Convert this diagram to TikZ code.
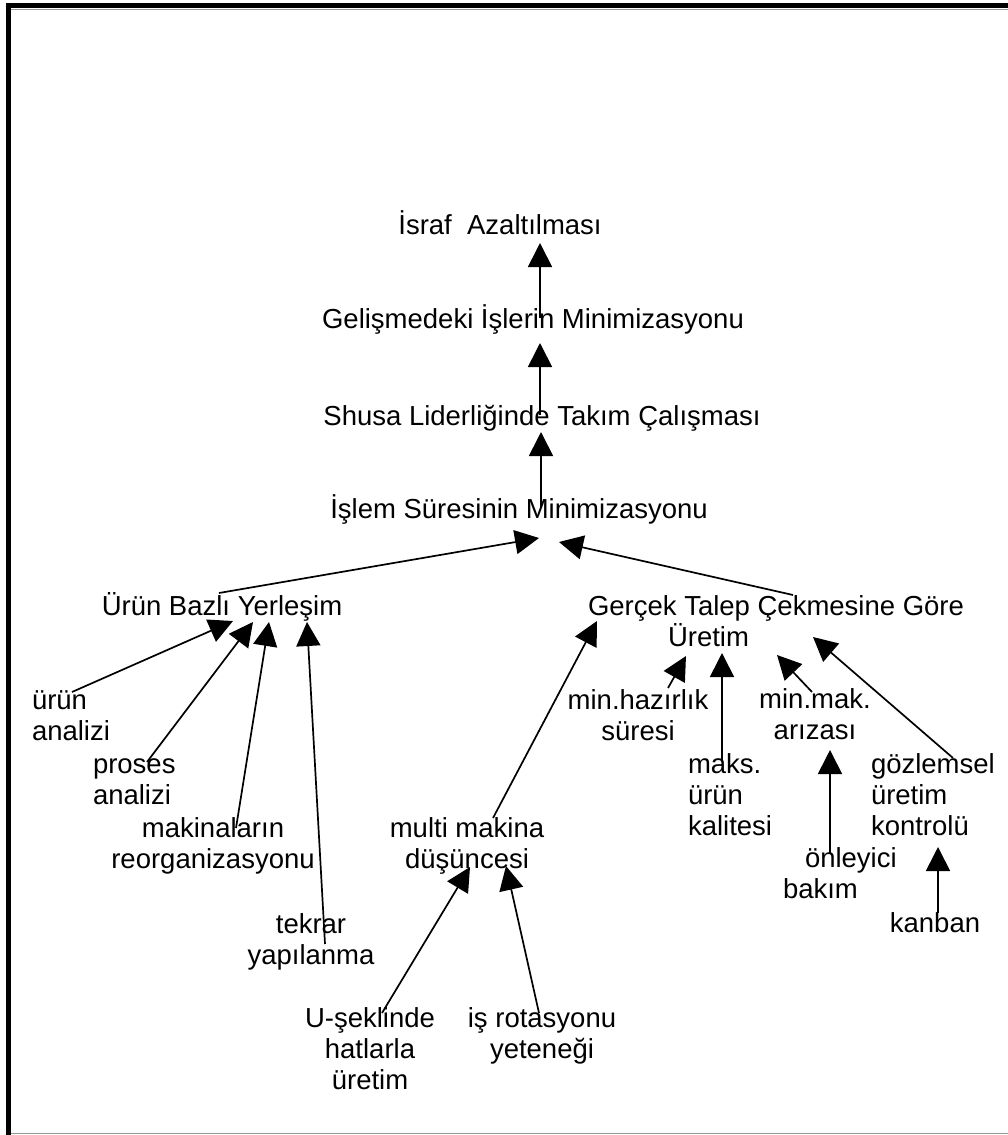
\documentclass[tikz,border=0pt]{standalone}
\usepackage{fontspec}
\setmainfont{Liberation Sans}
\usetikzlibrary{arrows.meta}

\tikzset{
  lbl/.style={inner sep=0pt, outer sep=0pt, font=\fontsize{27.5}{31}\selectfont},
  lblc/.style={lbl, anchor=base, align=center},
  lbll/.style={lbl, anchor=base west, align=left},
  arr/.style={line width=1.7pt, -{Triangle[length=24pt,width=24pt]}},
  frame/.style={line width=5pt, line join=miter},
}

\begin{document}
\begin{tikzpicture}[x=1pt, y=-1pt]
\useasboundingbox (0,0) rectangle (1008,1135);

% outer frame
\draw[frame] (8,1135) -- (8,5.5) -- (1008,5.5);
\draw[black!40, line width=0.8pt] (10.5,8.9) -- (1008,8.9);
\draw[black!40, line width=1pt] (10.5,1133.5) -- (1008,1133.5);

% main chain (nodes sit on the baseline of their last line)
\node[lblc] (isr) at (500,234) {İsraf~~Azaltılması};
\node[lblc] (gel) at (533,328) {Gelişmedeki İşlerin Minimizasyonu};
\node[lblc] (shu) at (542,425) {Shusa Liderliğinde Takım Çalışması};
\node[lblc] (isl) at (519,518) {İşlem Süresinin Minimizasyonu};

% second level
\node[lblc] (urb) at (222,615) {Ürün Bazlı Yerleşim};
\node[lbll] (ger) at (588,646) {Gerçek Talep Çekmesine Göre\\\hspace*{80pt}Üretim};

% causes of product-based layout
\node[lbll] (ua) at (32,740) {ürün\\analizi};
\node[lbll] (pa) at (93,804) {proses\\analizi};
\node[lblc] (mr) at (213,868) {makinaların\\reorganizasyonu};
\node[lblc] (ty) at (311,964) {tekrar\\yapılanma};

% causes of pull production
\node[lblc] (mm) at (467,868) {multi makina\\düşüncesi};
\node[lblc] (us) at (370,1089) {U-şeklinde\\hatlarla\\üretim};
\node[lblc] (ir) at (542,1058) {iş rotasyonu\\yeteneği};
\node[lblc] (mh) at (638,740) {min.hazırlık\\süresi};
\node[lbll] (mk) at (688,835) {maks.\\ürün\\kalitesi};
\node[lblc] (ma) at (815,739) {min.mak.\\arızası};
\node[lbll] (go) at (871,835) {gözlemsel\\üretim\\kontrolü};
\node[lbll] (ob) at (783,898) {\hspace*{22pt}önleyici\\bakım};
\node[lblc] (kb) at (935,932) {kanban};

% connectors
\draw[arr] ([shift={(7,-10)}]gel.base) -- ([shift={(40,9)}]isr.base);
\draw[arr] ([shift={(-2,-10)}]shu.base) -- ([shift={(7,15)}]gel.base);
\draw[arr] ([shift={(22,-10)}]isl.base) -- ([shift={(-1,7)}]shu.base);
\draw[arr] ([shift={(-3,-22)}]urb.base) -- ([shift={(20,20)}]isl.base);
\draw[arr] ([shift={(205,-51)}]ger.base west) -- ([shift={(40,24)}]isl.base);

\draw[arr] ([shift={(40,-48)}]ua.base west) -- ([shift={(11,6)}]urb.base);
\draw[arr] ([shift={(54,-42)}]pa.base west) -- ([shift={(31,7)}]urb.base);
\draw[arr] ([shift={(23,-40)}]mr.base) -- ([shift={(47,7)}]urb.base);
\draw[arr] ([shift={(14,-20)}]ty.base) -- ([shift={(85,7)}]urb.base);

\draw[arr] ([shift={(26,-50)}]mm.base) -- ([shift={(9,-25)}]ger.base west);
\draw[arr] ([shift={(12,-76)}]us.base) -- ([shift={(3,-1)}]mm.base);
\draw[arr] ([shift={(-3,-45)}]ir.base) -- ([shift={(39,-2)}]mm.base);
\draw[arr] ([shift={(30,-52)}]mh.base) -- ([shift={(98,10)}]ger.base west);
\draw[arr] ([shift={(34,-73)}]mk.base west) -- ([shift={(134,7)}]ger.base west);
\draw[arr] ([shift={(-3,-47)}]ma.base) -- ([shift={(189,9)}]ger.base west);
\draw[arr] ([shift={(82,-77)}]go.base west) -- ([shift={(225,-9)}]ger.base west);
\draw[arr] ([shift={(47,-45)}]ob.base west) -- ([shift={(15,11)}]ma.base);
\draw[arr] ([shift={(3,-19)}]kb.base) -- ([shift={(67,12)}]go.base west);
\end{tikzpicture}
\end{document}
